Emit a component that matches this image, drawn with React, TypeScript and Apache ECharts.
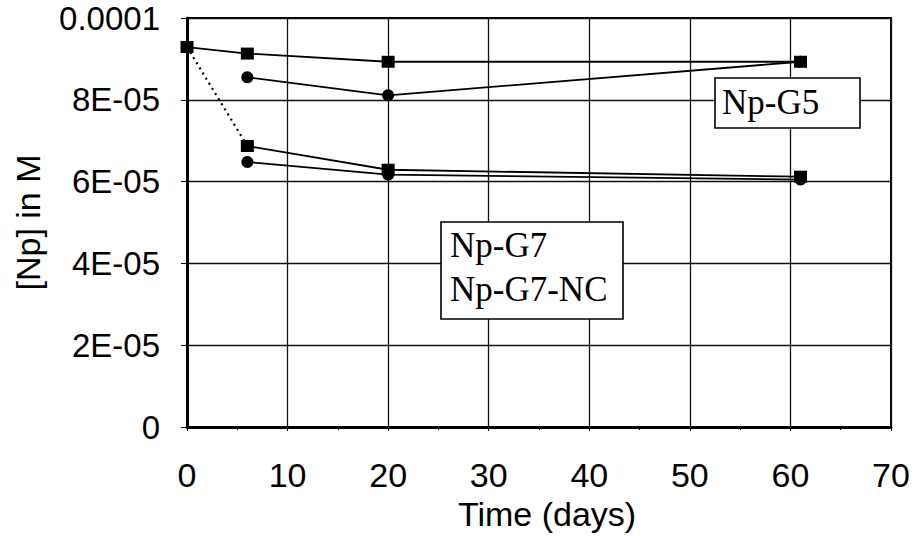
import React, { useEffect, useRef } from "react";
import * as echarts from "echarts";

// ---- data ----
const g5SquareDays = [0, 6, 20, 61];
const g5SquareValues = [9.29e-5, 9.13e-5, 8.93e-5, 8.93e-5];
const g5CircleDays = [6, 20, 61];
const g5CircleValues = [8.55e-5, 8.11e-5, 8.93e-5];
const g7SquareDays = [6, 20, 61];
const g7SquareValues = [6.87e-5, 6.29e-5, 6.12e-5];
const g7ncCircleDays = [6, 20, 61];
const g7ncCircleValues = [6.48e-5, 6.17e-5, 6.05e-5];
const yTickLabels = ["0", "2E-05", "4E-05", "6E-05", "8E-05", "0.0001"];
const labelG5 = "Np-G5";
const labelG7 = ["Np-G7", "Np-G7-NC"];

const zip = (xs: number[], ys: number[]) => xs.map((x, i) => [x, ys[i]]);

export default function App() {
  const ref = useRef<HTMLDivElement>(null);
  useEffect(() => {
    if (!ref.current) return;
    const chart = echarts.init(ref.current, null, { renderer: "svg" });
    const sans = "Liberation Sans";
    const serif = "Liberation Serif";
    const lineStyle = { color: "#000", width: 1.8 };
    const dotted = [
      [g5SquareDays[0], g5SquareValues[0]],
      [g7SquareDays[0], g7SquareValues[0]],
    ];
    chart.setOption({
      animation: false,
      backgroundColor: "#fff",
      grid: {
        left: 187,
        right: 28,
        top: 18,
        bottom: 109,
        containLabel: false,
        outerBoundsMode: "none",
        show: true,
        borderColor: "#000",
        borderWidth: 2,
      },
      xAxis: {
        type: "value",
        min: 0,
        max: 70,
        interval: 10,
        name: "Time (days)",
        nameLocation: "middle",
        nameGap: 64,
        nameTextStyle: { fontFamily: sans, fontSize: 34, color: "#000", padding: [0, 0, 0, 16] },
        axisLine: { show: true, lineStyle: { color: "#000", width: 3 } },
        axisTick: { show: true, length: 4, lineStyle: { color: "#000" } },
        minorTick: { show: true, splitNumber: 2, length: 3, lineStyle: { color: "#000" } },
        axisLabel: { fontFamily: sans, fontSize: 34, color: "#000", margin: 31 },
        splitLine: { show: true, lineStyle: { color: "#111", width: 1.3 } },
      },
      yAxis: {
        type: "value",
        min: 0,
        max: 1e-4,
        interval: 2e-5,
        name: "[Np] in M",
        nameLocation: "middle",
        nameRotate: 90,
        nameGap: 142,
        nameTextStyle: { fontFamily: sans, fontSize: 34, color: "#000" },
        axisLine: { show: true, lineStyle: { color: "#000", width: 3 } },
        axisTick: { show: true, length: 6, lineStyle: { color: "#000" } },
        axisLabel: {
          fontFamily: sans,
          fontSize: 33,
          color: "#000",
          margin: 27,
          formatter: (v: number) => yTickLabels[Math.round(v / 2e-5)] ?? "",
        },
        splitLine: { show: true, lineStyle: { color: "#111", width: 1.3 } },
      },
      series: [
        {
          type: "line",
          data: dotted,
          symbol: "none",
          lineStyle: { color: "#000", width: 2.2, type: [2, 4] },
          z: 2,
        },
        {
          type: "line",
          data: zip(g5SquareDays, g5SquareValues),
          symbol: "rect",
          symbolSize: [13, 12],
          itemStyle: { color: "#000" },
          lineStyle,
          z: 3,
        },
        {
          type: "line",
          data: zip(g5CircleDays, g5CircleValues),
          symbol: "circle",
          symbolSize: 12,
          itemStyle: { color: "#000" },
          lineStyle,
          z: 3,
        },
        {
          type: "line",
          data: zip(g7SquareDays, g7SquareValues),
          symbol: "rect",
          symbolSize: [13, 12],
          itemStyle: { color: "#000" },
          lineStyle,
          z: 3,
        },
        {
          type: "line",
          data: zip(g7ncCircleDays, g7ncCircleValues),
          symbol: "circle",
          symbolSize: 12,
          itemStyle: { color: "#000" },
          lineStyle,
          z: 3,
        },
      ],
      graphic: [
        {
          type: "rect",
          shape: { x: 715, y: 78, width: 145, height: 50 },
          style: { fill: "#fff", stroke: "#000", lineWidth: 1.6 },
          z: 10,
        },
        {
          type: "text",
          x: 722,
          y: 102,
          style: {
            text: labelG5,
            fontFamily: serif,
            fontSize: 35,
            fill: "#000",
            verticalAlign: "middle",
          },
          z: 11,
        },
        {
          type: "rect",
          shape: { x: 441, y: 222, width: 182, height: 97 },
          style: { fill: "#fff", stroke: "#000", lineWidth: 1.6 },
          z: 10,
        },
        {
          type: "text",
          x: 450,
          y: 245,
          style: {
            text: labelG7[0],
            fontFamily: serif,
            fontSize: 35,
            fill: "#000",
            verticalAlign: "middle",
          },
          z: 11,
        },
        {
          type: "text",
          x: 450,
          y: 289,
          style: {
            text: labelG7[1],
            fontFamily: serif,
            fontSize: 35,
            fill: "#000",
            verticalAlign: "middle",
          },
          z: 11,
        },
      ],
    });
    return () => chart.dispose();
  }, []);
  return <div ref={ref} style={{ width: 919, height: 536, position: "absolute", left: 0, top: 0 }} />;
}
